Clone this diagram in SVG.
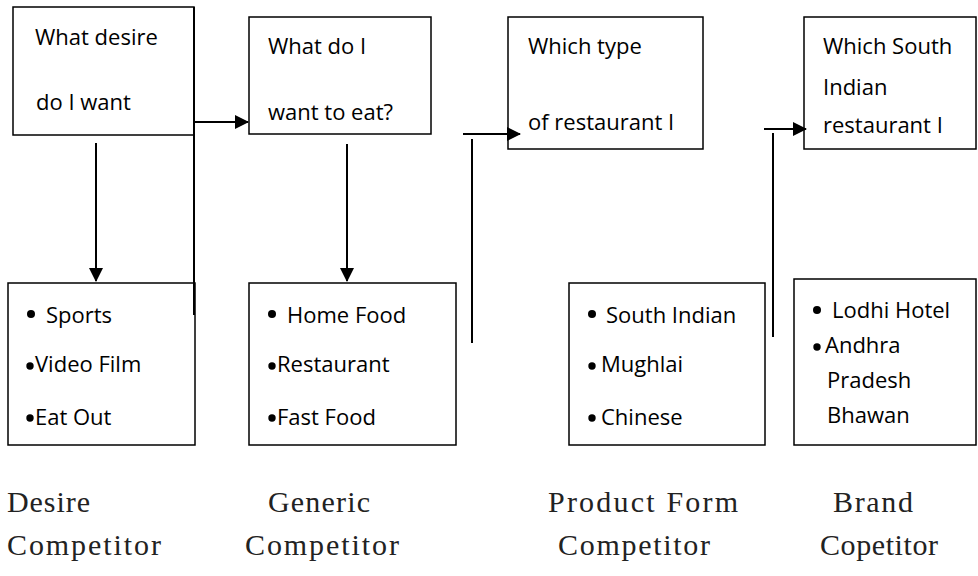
<svg xmlns="http://www.w3.org/2000/svg" width="978" height="576" viewBox="0 0 978 576">
  <style>
    .box { fill: #ffffff; stroke: #000000; stroke-width: 1.5; }
    .lbl { font-family: "Open Sans", "Liberation Sans", sans-serif; font-size: 22px; fill: #000000; }
    .cap { font-family: "Liberation Serif", "DejaVu Serif", serif; font-size: 30px; fill: #222222; }
    .dot { fill: #000000; }
    .wire { fill: none; stroke: #000000; stroke-width: 2; }
  </style>
  <defs>
    <marker id="head" viewBox="0 0 14 14" refX="13" refY="7" markerWidth="14" markerHeight="14" markerUnits="userSpaceOnUse" orient="auto">
      <path d="M0,0 L14,7 L0,14 Z" fill="#000000"/>
    </marker>
  </defs>
  <rect width="978" height="576" fill="#ffffff"/>

  <!-- question boxes -->
  <g id="q-desire">
    <rect class="box" x="13" y="7" width="181" height="128"/>
    <text class="lbl" x="35" y="45">What desire</text>
    <text class="lbl" x="36" y="110">do I want</text>
  </g>
  <g id="q-generic">
    <rect class="box" x="249" y="17" width="182" height="117"/>
    <text class="lbl" x="268" y="54">What do I</text>
    <text class="lbl" x="268" y="120">want to eat?</text>
  </g>
  <g id="q-form">
    <rect class="box" x="508" y="17" width="195" height="132"/>
    <text class="lbl" x="528" y="54">Which type</text>
    <text class="lbl" x="528" y="130">of restaurant I</text>
  </g>
  <g id="q-brand">
    <rect class="box" x="804" y="17" width="172" height="132"/>
    <text class="lbl" x="823" y="54">Which South</text>
    <text class="lbl" x="823" y="95">Indian</text>
    <text class="lbl" x="823" y="133">restaurant I</text>
  </g>

  <!-- option lists -->
  <g id="opt-desire">
    <rect class="box" x="8" y="283" width="187" height="162"/>
    <circle class="dot" cx="31" cy="314" r="4"/>
    <text class="lbl" x="46" y="323">Sports</text>
    <circle class="dot" cx="30" cy="366" r="3.7"/>
    <text class="lbl" x="35" y="372">Video Film</text>
    <circle class="dot" cx="30" cy="418" r="3.7"/>
    <text class="lbl" x="35" y="425">Eat Out</text>
  </g>
  <g id="opt-generic">
    <rect class="box" x="249" y="283" width="207" height="162"/>
    <circle class="dot" cx="272" cy="314" r="4"/>
    <text class="lbl" x="287" y="323">Home Food</text>
    <circle class="dot" cx="272" cy="366" r="3.7"/>
    <text class="lbl" x="277" y="372">Restaurant</text>
    <circle class="dot" cx="272" cy="418" r="3.7"/>
    <text class="lbl" x="277" y="425">Fast Food</text>
  </g>
  <g id="opt-form">
    <rect class="box" x="569" y="283" width="196" height="162"/>
    <circle class="dot" cx="592" cy="314" r="4"/>
    <text class="lbl" x="606" y="323">South Indian</text>
    <circle class="dot" cx="592" cy="366" r="3.7"/>
    <text class="lbl" x="601" y="372">Mughlai</text>
    <circle class="dot" cx="592" cy="418" r="3.7"/>
    <text class="lbl" x="601" y="425">Chinese</text>
  </g>
  <g id="opt-brand">
    <rect class="box" x="794" y="279" width="182" height="166"/>
    <circle class="dot" cx="817" cy="310" r="4"/>
    <text class="lbl" x="832" y="318">Lodhi Hotel</text>
    <circle class="dot" cx="817" cy="347" r="3.7"/>
    <text class="lbl" x="825" y="353">Andhra</text>
    <text class="lbl" x="827" y="388">Pradesh</text>
    <text class="lbl" x="827" y="423">Bhawan</text>
  </g>

  <!-- connectors -->
  <g id="connectors">
    <path class="wire" d="M194,7 V315"/>
    <path class="wire" d="M194,122 H248" marker-end="url(#head)"/>
    <path class="wire" d="M96,143 V281" marker-end="url(#head)"/>
    <path class="wire" d="M347,144 V281" marker-end="url(#head)"/>
    <path class="wire" d="M463,134 H520" marker-end="url(#head)"/>
    <path class="wire" d="M472,139 V343"/>
    <path class="wire" d="M764,129 H806" marker-end="url(#head)"/>
    <path class="wire" d="M773,133 V337"/>
  </g>

  <!-- competitor levels -->
  <g id="captions">
    <text class="cap" x="7" y="512" textLength="83" lengthAdjust="spacing">Desire</text>
    <text class="cap" x="7" y="555" textLength="154" lengthAdjust="spacing">Competitor</text>
    <text class="cap" x="268" y="512" textLength="102" lengthAdjust="spacing">Generic</text>
    <text class="cap" x="245" y="555" textLength="154" lengthAdjust="spacing">Competitor</text>
    <text class="cap" x="548" y="512" textLength="190" lengthAdjust="spacing">Product Form</text>
    <text class="cap" x="558" y="555" textLength="152" lengthAdjust="spacing">Competitor</text>
    <text class="cap" x="833" y="512" textLength="80" lengthAdjust="spacing">Brand</text>
    <text class="cap" x="820" y="555" textLength="118" lengthAdjust="spacing">Copetitor</text>
  </g>
</svg>
